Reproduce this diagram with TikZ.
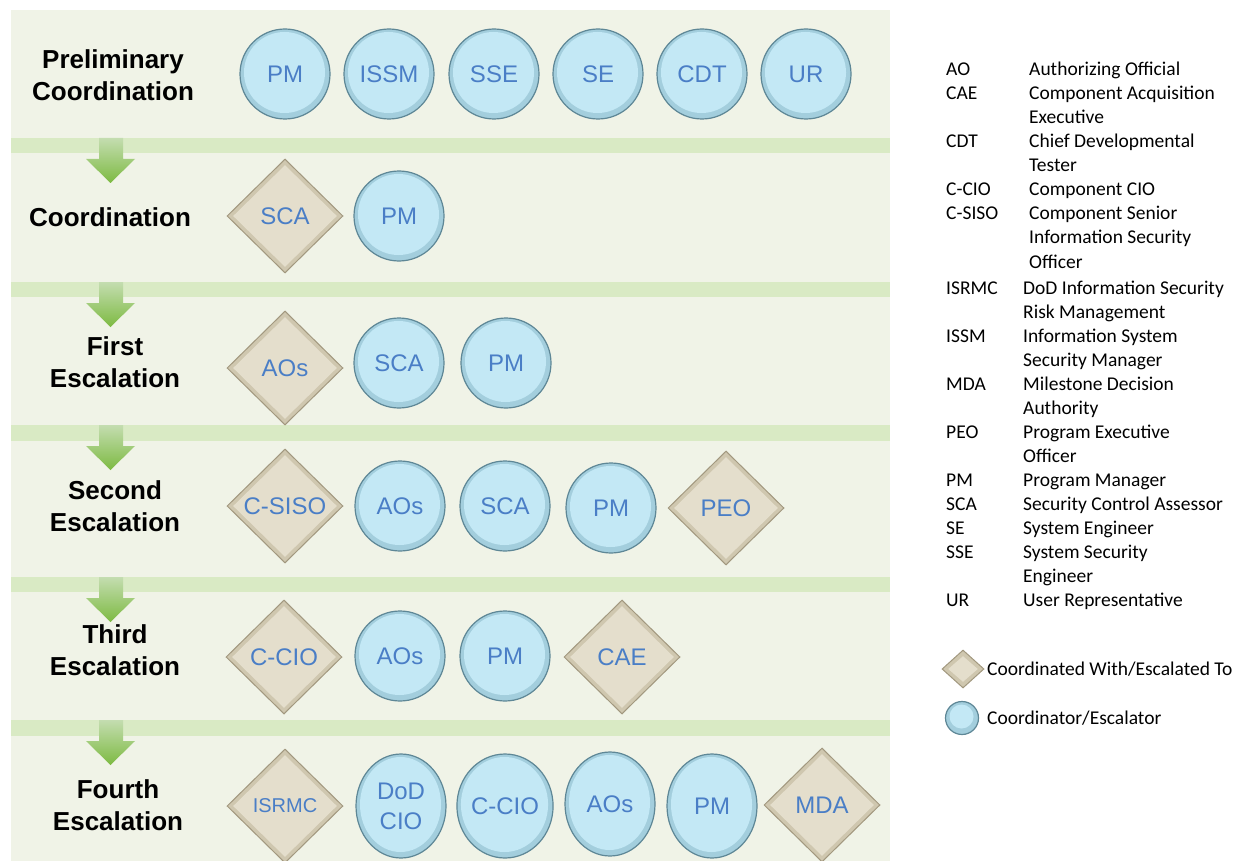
\documentclass[tikz,border=0pt]{standalone}
\usepackage{fontspec}
\setmainfont{Liberation Sans}
\newfontfamily\legfont{Carlito}
\usetikzlibrary{shapes.geometric,calc}
\definecolor{panelbg}{HTML}{F0F3E7}
\definecolor{bandbg}{HTML}{D9EAC4}
\definecolor{labblue}{HTML}{4A7EC6}
\definecolor{bubA}{HTML}{C3E8F5}
\definecolor{bubB}{HTML}{A3CEDD}
\definecolor{bubC}{HTML}{5E8796}
\definecolor{gemA}{HTML}{E4DECC}
\definecolor{gemB}{HTML}{CFC7AF}
\definecolor{gemC}{HTML}{A2987F}
\definecolor{arrtop}{HTML}{C4DDB0}
\definecolor{arrbot}{HTML}{7DBA42}

\begin{document}
\begin{tikzpicture}[x=1pt,y=-1pt,
  heading/.style={font=\bfseries\fontsize{26}{32}\selectfont,align=center},
  coordinator/.style={circle,minimum size=90pt,inner sep=0pt,fill=bubB,
    draw=bubC,line width=1.2pt,text=labblue,font=\fontsize{24}{30}\selectfont,align=center,
    path picture={\fill[bubA] let \p1=($(path picture bounding box.north east)-(path picture bounding box.center)$) in
      ([shift={(-0.5pt,1.5pt)}]path picture bounding box.center) ellipse [x radius=\x1-4.5pt,y radius=\y1-4.5pt];}},
  escalatedto/.style={diamond,minimum width=116pt,minimum height=114pt,inner sep=0pt,fill=gemB,
    draw=gemC,line width=1pt,text=labblue,font=\fontsize{24}{30}\selectfont,
    path picture={\fill[gemA] let \p1=($(path picture bounding box.north east)-(path picture bounding box.center)$) in
      ([xshift=-\x1+6pt]path picture bounding box.center) -- ([yshift=\y1-6pt]path picture bounding box.center)
      -- ([xshift=\x1-6pt]path picture bounding box.center) -- ([yshift=-\y1+6pt]path picture bounding box.center) -- cycle;}},
  tallround/.style={coordinator,ellipse,minimum width=90pt,minimum height=104pt},
  arrowfill/.style={top color=arrtop,bottom color=arrbot}]
\useasboundingbox (0,0) rectangle (1249,861);
\fill[panelbg] (11,10) rectangle (890,861);
\fill[bandbg] (11,138) rectangle (890,153);
\fill[bandbg] (11,282) rectangle (890,297);
\fill[bandbg] (11,425) rectangle (890,441);
\fill[bandbg] (11,577) rectangle (890,592);
\fill[bandbg] (11,720) rectangle (890,736);
\shade[arrowfill] (99,138) -- (123,138) -- (123,159) -- (135,159) -- (110.5,183) -- (86,159) -- (99,159) -- cycle;
\shade[arrowfill] (99,282) -- (123,282) -- (123,303) -- (135,303) -- (110.5,327) -- (86,303) -- (99,303) -- cycle;
\shade[arrowfill] (99,425) -- (123,425) -- (123,446) -- (135,446) -- (110.5,470) -- (86,446) -- (99,446) -- cycle;
\shade[arrowfill] (99,577) -- (123,577) -- (123,598) -- (135,598) -- (110.5,622) -- (86,598) -- (99,598) -- cycle;
\shade[arrowfill] (99,720) -- (123,720) -- (123,741) -- (135,741) -- (110.5,765) -- (86,741) -- (99,741) -- cycle;

\node[heading] (prelim) at (113,75) {Preliminary\\Coordination};
\node[coordinator] (p1) at (285,74) {PM};
\node[coordinator] (p2) at (389,74) {ISSM};
\node[coordinator] (p3) at (494,74) {SSE};
\node[coordinator] (p4) at (598,74) {SE};
\node[coordinator] (p5) at (702,74) {CDT};
\node[coordinator] (p6) at (806,74) {UR};

\node[heading] (coord) at (110,217) {Coordination};
\node[escalatedto] (c1) at (285,216) {SCA};
\node[coordinator] (c2) at (399,216) {PM};

\node[heading] (first) at (115,362) {First\\Escalation};
\node[escalatedto] (f1) at (285,368) {AOs};
\node[coordinator] (f2) at (399,363) {SCA};
\node[coordinator] (f3) at (506,363) {PM};

\node[heading] (second) at (115,506) {Second\\Escalation};
\node[escalatedto] (s1) at (285,506) {C-SISO};
\node[coordinator] (s2) at (400,506) {AOs};
\node[coordinator] (s3) at (505,506) {SCA};
\node[coordinator] (s4) at (611,508) {PM};
\node[escalatedto] (s5) at (726,508) {PEO};

\node[heading] (third) at (115,650) {Third\\Escalation};
\node[escalatedto] (t1) at (284,657) {C-CIO};
\node[coordinator] (t2) at (400,656) {AOs};
\node[coordinator] (t3) at (505,656) {PM};
\node[escalatedto] (t4) at (622,657) {CAE};

\node[heading] (fourth) at (118,805) {Fourth\\Escalation};
\node[escalatedto,font=\fontsize{20}{24}\selectfont] (r1) at (285,806) {ISRMC};
\node[tallround] (r2) at (401,806) {DoD\\CIO};
\node[tallround] (r3) at (505,806) {C-CIO};
\node[tallround] (r4) at (610,804) {AOs};
\node[tallround] (r5) at (712,806) {PM};
\node[escalatedto] (r6) at (822,805) {MDA};

\node[anchor=north west,inner sep=0pt,font=\legfont\fontsize{19.5}{24}\selectfont] (legtop) at (946,59)
  {\begin{tabular}{@{}p{83pt}@{}l@{}}
  AO & Authorizing Official\\
  CAE & Component Acquisition\\
   & Executive\\
  CDT & Chief Developmental\\
   & Tester\\
  C-CIO & Component CIO\\
  C-SISO & Component Senior\\
   & Information Security\\
   & Officer
  \end{tabular}};
\node[anchor=north west,inner sep=0pt,font=\legfont\fontsize{19.5}{24}\selectfont] (legbot) at (946,277)
  {\begin{tabular}{@{}p{77pt}@{}l@{}}
  ISRMC & DoD Information Security\\
   & Risk Management\\
  ISSM & Information System\\
   & Security Manager\\
  MDA & Milestone Decision\\
   & Authority\\
  PEO & Program Executive\\
   & Officer\\
  PM & Program Manager\\
  SCA & Security Control Assessor\\
  SE & System Engineer\\
  SSE & System Security\\
   & Engineer\\
  UR & User Representative
  \end{tabular}};

\node[escalatedto,minimum width=42pt,minimum height=38pt] (keydia) at (963,669) {};
\node[anchor=west,inner sep=0pt,font=\legfont\fontsize{19.5}{24}\selectfont] (keydiatxt) at (987,669) {Coordinated With/Escalated To};
\node[coordinator,minimum size=33pt] (keycir) at (962,718) {};
\node[anchor=west,inner sep=0pt,font=\legfont\fontsize{19.5}{24}\selectfont] (keycirtxt) at (987,718) {Coordinator/Escalator};
\end{tikzpicture}
\end{document}
